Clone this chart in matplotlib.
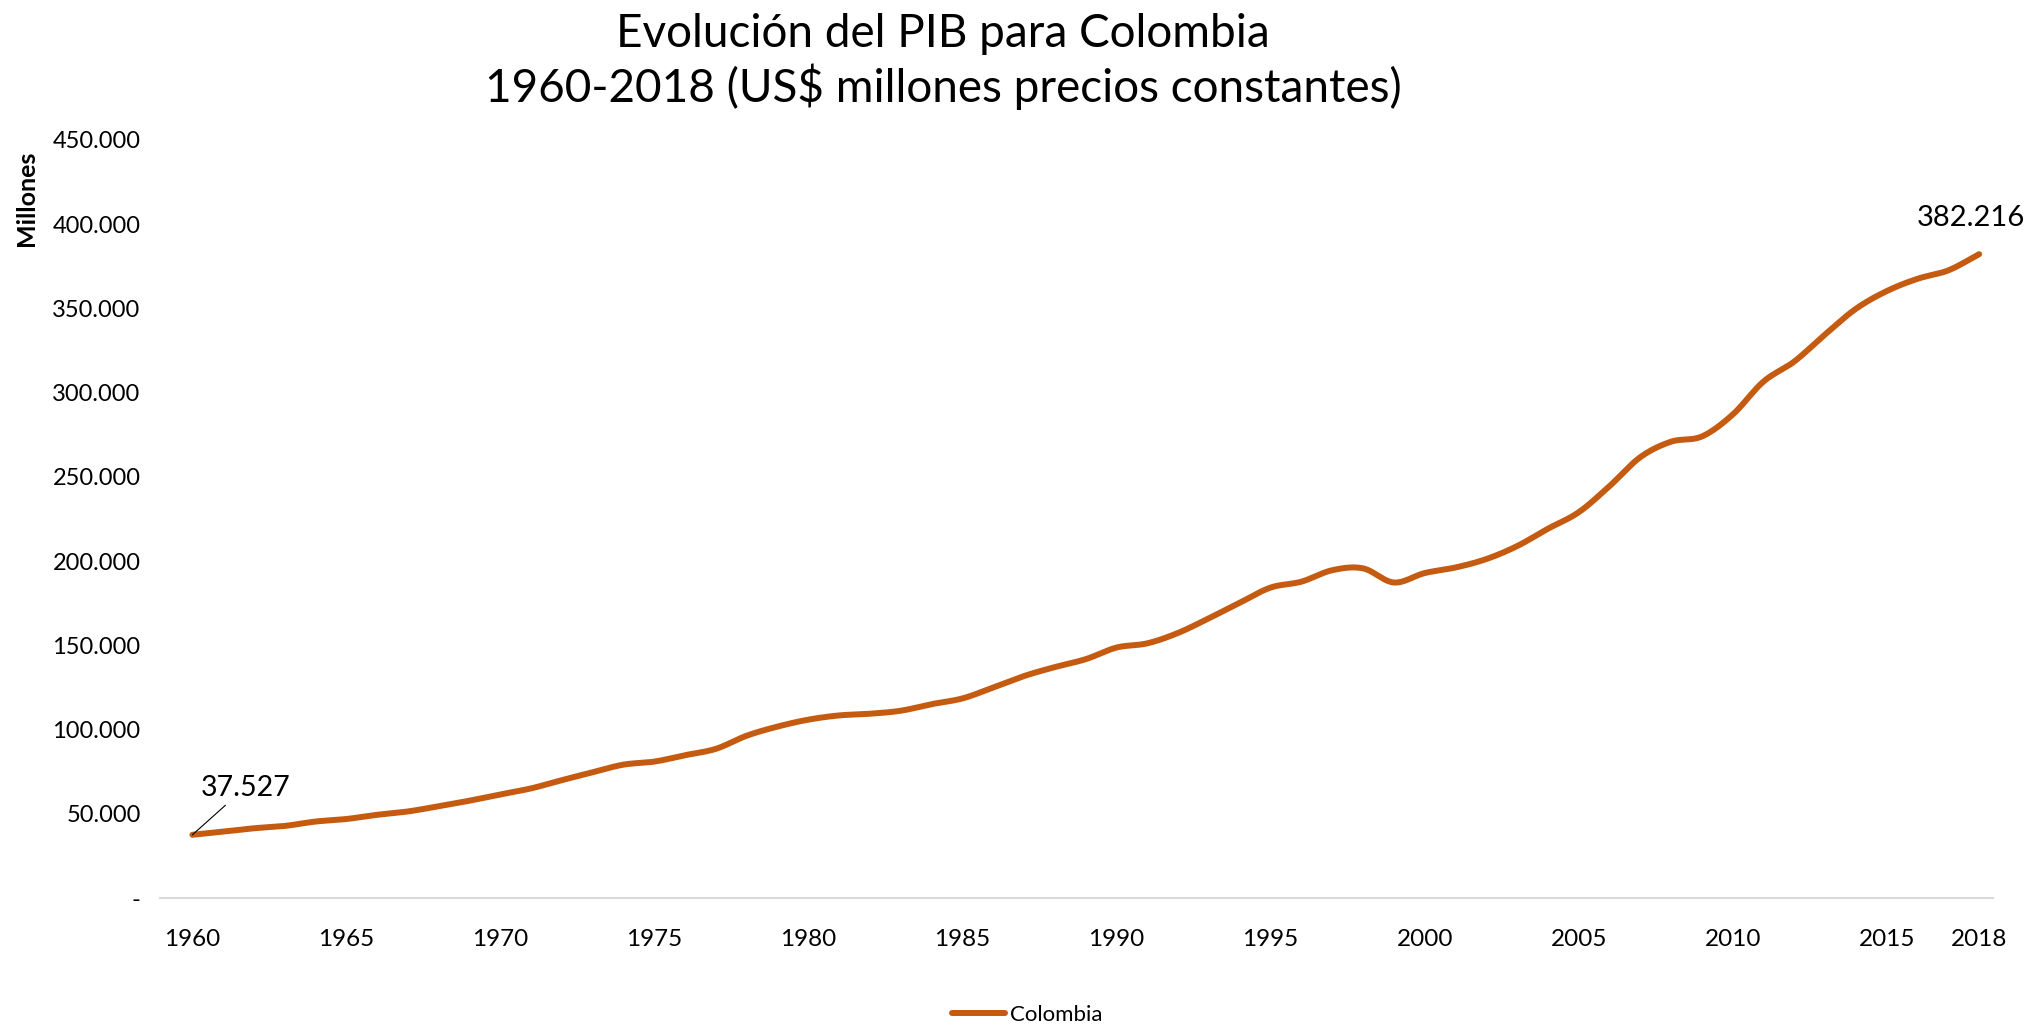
import numpy as np
import matplotlib
matplotlib.use("Agg")
import matplotlib.pyplot as plt
from matplotlib.ticker import FuncFormatter

plt.rcParams['font.family'] = ['Lato', 'DejaVu Sans']

# PIB Colombia, US$ millones (precios constantes)
years = list(range(1960, 2019))
gdp = [37527, 39400, 41400, 42800, 45400, 46900, 49400, 51400, 54500, 57800,
       61500, 65100, 70000, 74700, 79200, 81000, 84800, 88600, 96400, 101800,
       105900, 108400, 109400, 111200, 115100, 118500, 125000, 131800, 137100, 141800,
       148700, 151200, 157400, 166100, 175300, 184300, 187800, 194600, 195700, 187300,
       192900, 196200, 201200, 208900, 219200, 229000, 244500, 261700, 270900, 274000,
       287000, 306600, 318500, 334600, 349800, 360300, 367600, 372600, 382216]
xticks = [1960, 1965, 1970, 1975, 1980, 1985, 1990, 1995, 2000, 2005, 2010, 2015, 2018]
series_name = "Colombia"
color = "#C55A11"


def smooth(x, y, n=20):
    # curva suavizada tipo Excel (Catmull-Rom)
    x = np.asarray(x, float)
    y = np.asarray(y, float)
    px = np.concatenate([[2 * x[0] - x[1]], x, [2 * x[-1] - x[-2]]])
    py = np.concatenate([[2 * y[0] - y[1]], y, [2 * y[-1] - y[-2]]])
    t = np.linspace(0, 1, n, endpoint=False)
    xs, ys = [], []
    for i in range(1, len(px) - 2):
        for p, out in ((px, xs), (py, ys)):
            p0, p1, p2, p3 = p[i - 1], p[i], p[i + 1], p[i + 2]
            out.extend(0.5 * (2 * p1 + (-p0 + p2) * t
                              + (2 * p0 - 5 * p1 + 4 * p2 - p3) * t ** 2
                              + (-p0 + 3 * p1 - 3 * p2 + p3) * t ** 3))
    xs.append(x[-1])
    ys.append(y[-1])
    return np.array(xs), np.array(ys)


fig = plt.figure(figsize=(20.34, 10.27), dpi=100)
ax = fig.add_axes([0.0787, 0.1256, 0.9013, 0.7381])

sx, sy = smooth(years, gdp)
ax.plot(sx, sy, color=color, lw=4.3, solid_capstyle='round', label=series_name)

ax.set_xlim(1958.95, 2018.46)
ax.set_ylim(0, 450000)
ax.set_xticks(xticks)
ax.set_yticks(np.arange(0, 450001, 50000))
ax.yaxis.set_major_formatter(FuncFormatter(
    lambda v, p: "-" if v == 0 else f"{v:,.0f}".replace(",", ".")))
ax.tick_params(axis='both', length=0, labelsize=17)
ax.tick_params(axis='x', pad=22, labelsize=17.5)
ax.tick_params(axis='y', pad=14)

for s in ['top', 'right', 'left']:
    ax.spines[s].set_visible(False)
ax.spines['bottom'].set_color('#D9D9D9')
ax.spines['bottom'].set_linewidth(1.5)

# etiquetas de datos
ax.annotate(f"{gdp[0]:,}".replace(",", "."), xy=(years[0], gdp[0]),
            xytext=(38, 34), textcoords='offset points', ha='center', va='center',
            fontsize=20.5, arrowprops=dict(arrowstyle='-', color='black', lw=0.8,
                                           shrinkA=2, shrinkB=0))
ax.annotate(f"{gdp[-1]:,}".replace(",", "."), xy=(years[-1], gdp[-1]),
            xytext=(-6, 26), textcoords='offset points', ha='center', va='center',
            fontsize=21)

fig.text(0.0128, 0.807, "Millones", rotation=90, ha='center', va='center',
         fontsize=18, fontweight='bold')
fig.text(0.4636, 0.940,
         "Evolución del PIB para Colombia\n1960-2018 (US\\$ millones precios constantes)",
         ha='center', va='center', fontsize=33, linespacing=1.22)

fig.legend(loc='center', bbox_to_anchor=(0.505, 0.012), frameon=False,
           fontsize=16, handlelength=2.4, handletextpad=0.2)

fig.savefig("out.png", dpi=100)
